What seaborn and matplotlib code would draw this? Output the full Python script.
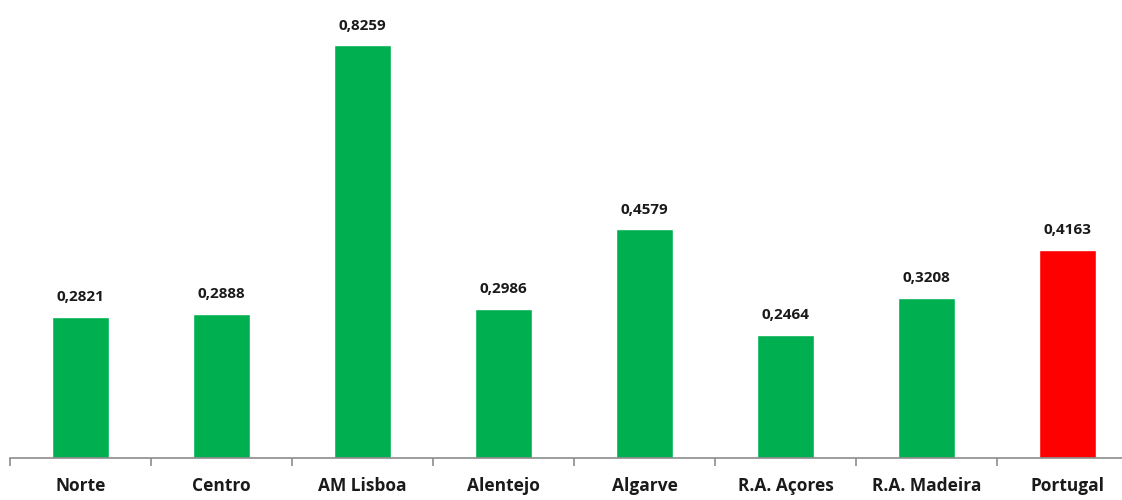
import matplotlib
matplotlib.use("Agg")
import matplotlib.pyplot as plt
import seaborn as sns
from matplotlib.ticker import FixedLocator

categories = ["Norte", "Centro", "AM Lisboa", "Alentejo", "Algarve", "R.A. Açores", "R.A. Madeira", "Portugal"]
values = [0.2821, 0.2888, 0.8259, 0.2986, 0.4579, 0.2464, 0.3208, 0.4163]
bar_colors = ["#00B050"] * 7 + ["#FF0000"]

sns.set_theme(style="white")
plt.rcParams['font.family'] = ['Open Sans', 'DejaVu Sans']

fig = plt.figure(figsize=(11.22, 5), dpi=100)
ax = fig.add_axes([10/1122, 42/500, 1128/1122, 458/500])

sns.barplot(x=categories, y=values, hue=categories, palette=bar_colors,
            width=0.4, legend=False, ax=ax, saturation=1)

ax.set_xlim(-0.5, 7.5)
ax.set_ylim(0, 0.916)
for side in ["top", "right", "left"]:
    ax.spines[side].set_visible(False)
ax.spines["bottom"].set_color("#8c8c8c")
ax.spines["bottom"].set_linewidth(1.2)
ax.set_yticks([])
ax.set_ylabel("")
ax.set_xlabel("")

ax.tick_params(axis="x", which="major", length=0, pad=14, labelsize=12.5)
for lab in ax.get_xticklabels():
    lab.set_fontweight("bold")
    lab.set_color("#1a1a1a")
ax.xaxis.set_minor_locator(FixedLocator([i - 0.5 for i in range(len(categories) + 1)]))
ax.tick_params(axis="x", which="minor", length=6, width=1.2, color="#8c8c8c", direction="out", bottom=True)

for container in ax.containers:
    labels = [f"{v:.4f}".replace(".", ",") for v in container.datavalues]
    ax.bar_label(container, labels=labels, padding=9, fontsize=11, fontweight="bold", color="#1a1a1a")

fig.savefig("out.png", dpi=100)
